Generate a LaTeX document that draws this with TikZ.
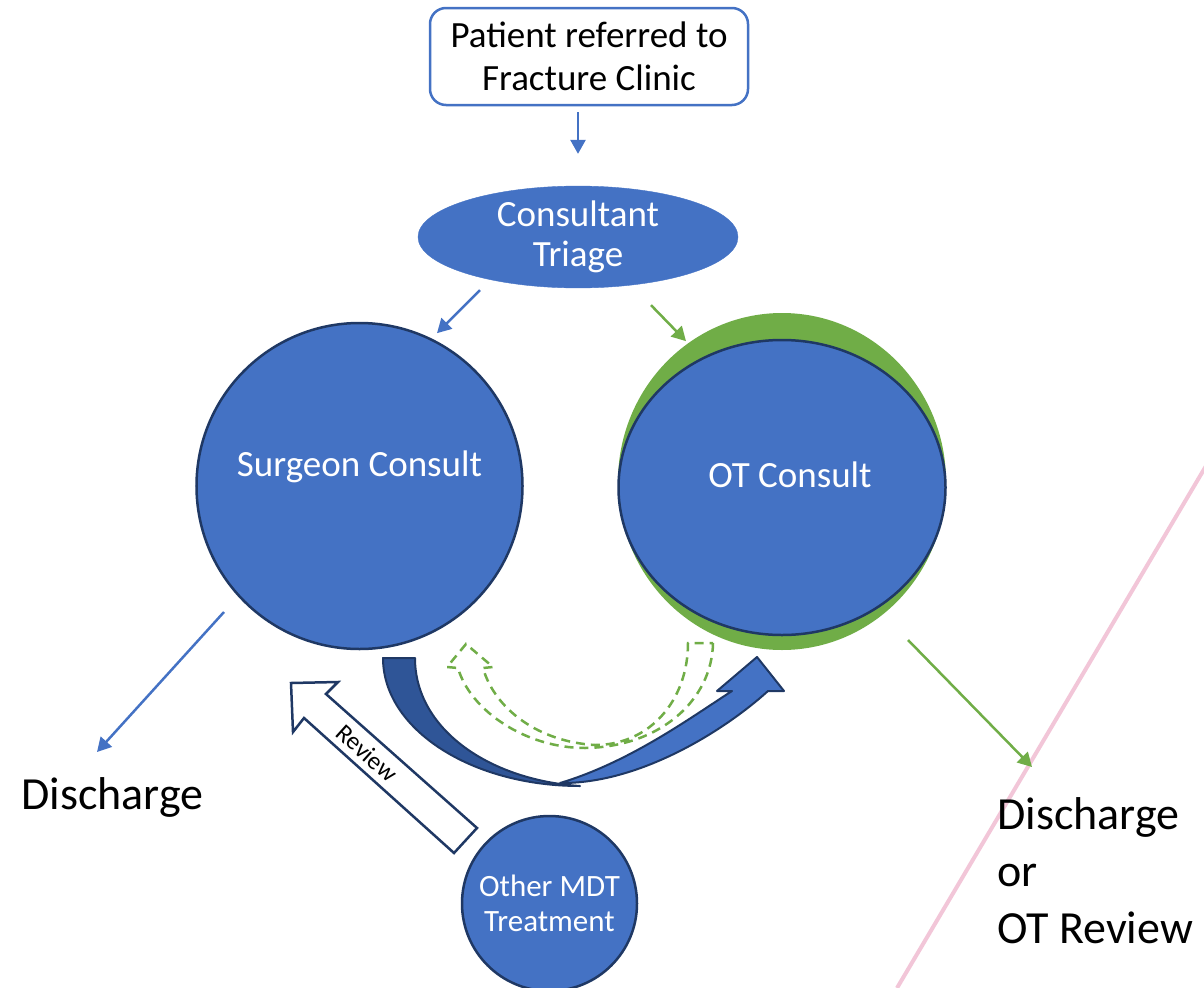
\documentclass[tikz,border=0pt]{standalone}
\usepackage{fontspec}
\setmainfont{Carlito}
\usetikzlibrary{
  arrows.meta,      % Triangle arrow tips
  shapes.geometric  % ellipse nodes
}
\definecolor{clinicblue}{HTML}{4472C4}
\definecolor{edgenavy}{HTML}{1F3864}
\definecolor{bandblue}{HTML}{2F5597}
\definecolor{otgreen}{HTML}{70AD47}
\definecolor{markpink}{HTML}{F2C6D8}
\tikzset{
  flow/.style={
    -{Triangle[length=14bp,width=15bp]},
    line width=2.5bp,
    color=clinicblue
  },
  green flow/.style={
    flow,
    color=otgreen
  },
  consult/.style={
    fill=clinicblue,
    draw=edgenavy,
    line width=2.5bp,
    inner sep=0pt
  },
  big text/.style={
    font=\fontsize{37bp}{43bp}\selectfont
  },
  huge text/.style={
    font=\fontsize{46bp}{57bp}\selectfont
  },
  white text/.style={
    big text,
    text=white,
    align=center
  }
}

\begin{document}
\begin{tikzpicture}[x=1bp, y=-1bp]
    \useasboundingbox (0,0) rectangle (1204,988);

    % pink line across the right side
    \draw[markpink, line width=4bp] (1232,422) -- (897,988);

    % referral box and triage
    \node[draw=clinicblue, line width=2.5bp, rounded corners=16bp, fill=white,
          minimum width=318bp, minimum height=97bp, align=center, big text]
          (referral) at (589,56.5) {Patient referred to\\Fracture Clinic};
    \node[ellipse, fill=clinicblue, draw=clinicblue, minimum width=320bp,
          minimum height=96bp, inner sep=0pt, white text]
          (triage) at (578,237) {Consultant\\[-3bp]Triage};
    \draw[flow, shorten <=6bp, shorten >=32bp] (referral.south -| triage.north) -- (triage.north);

    % the two consults
    \node[consult, circle, minimum size=326bp] (surgeon) at (359.5,486) {};
    \node[white text] (surgeon text) at (359.5,467) {Surgeon Consult};
    \node[ellipse, fill=otgreen, minimum width=328bp, minimum height=337bp,
          inner sep=0pt] (ot back) at (782,481.5) {};
    \node[consult, ellipse, minimum width=327bp, minimum height=295bp] (ot) at (782,487.5) {};
    \node[white text] (ot text) at (790,475) {OT Consult};

    \draw[flow] (triage.south) ++(-98,2) -- ++(-43,43);        % to surgeon
    \draw[green flow] (triage.south) ++(73,17) -- ++(35,36);   % to OT

    % outcomes
    \node[huge text] (discharge) at (112.5,797) {Discharge};
    \node[huge text, align=left, anchor=north west, inner sep=0pt]
          (ot outcome) at (997,797) {Discharge\\or\\OT Review};
    \draw[flow] (surgeon.center) ++(-135.5,126) -- ++(-127,140);
    \draw[green flow] (ot.center) ++(126,152.5) -- ++(124,127);

    % curved arrow from surgeon to OT (light part first, dark tail on top)
    \draw[fill=clinicblue, draw=edgenavy, line width=2bp, line join=round]
      (560,783) .. controls (640,784) and (725,730) .. (768,691)
      -- (784,691) -- (757,657) -- (717,691) -- (732,691)
      .. controls (690,718) and (630,762) .. (560,783) -- cycle;
    \draw[fill=bandblue, draw=edgenavy, line width=2bp, line join=round]
      (383,658) -- (415,658) .. controls (415,729) and (489,780) .. (580,786)
      .. controls (471,786) and (383,729) .. (383,658) -- cycle;

    % dashed green arrow back from OT to surgeon
    \draw[otgreen, line width=2.5bp, dash pattern=on 9bp off 6bp]
      (713,643) .. controls (712,700) and (660,747) .. (585,748)
      .. controls (525,748) and (470,710) .. (458,668)
      -- (447,667) -- (466,644) -- (493,667) -- (483,668)
      .. controls (495,710) and (540,742) .. (595,745)
      .. controls (650,745) and (688,700) .. (688,643) -- cycle;

    % other MDT treatment and review arrow
    \node[consult, circle, minimum size=175bp, text=white, align=center,
          font=\fontsize{31bp}{35bp}\selectfont]
          (mdt) at (549.5,903.5) {Other MDT\\Treatment};
    \draw[fill=white, draw=edgenavy, line width=2.5bp, line join=miter]
      (291,683) -- (338,682) -- (326,694) -- (477,828)
      -- (454,853) -- (304,718) -- (293,732) -- cycle;
    \node[rotate=-42, font=\fontsize{25bp}{28bp}\selectfont]
          (review) at (367,753) {Review};

\end{tikzpicture}
\end{document}
